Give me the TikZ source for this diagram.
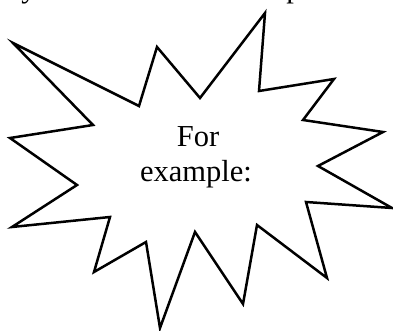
\documentclass[tikz,border=0pt]{standalone}
\usepackage{fontspec}
\setmainfont{Liberation Serif}
\begin{document}
\begin{tikzpicture}[x=1pt,y=-1pt,
  burst/.style={draw=black,line width=2.5pt,line join=miter,fill=white},
  label/.style={font=\fontsize{30.5}{35}\selectfont,align=center,inner sep=0pt}]
\useasboundingbox (0,0) rectangle (393,331);
\begin{scope}
\clip (0,0) rectangle (393,331);
\node[font=\fontsize{30.5}{35}\selectfont,anchor=base,inner sep=0pt] (ty) at (29,-2) {y};
\node[font=\fontsize{30.5}{35}\selectfont,anchor=base,inner sep=0pt] (tp) at (294,-2) {p};
\end{scope}
\draw[burst] (13,43) -- (139,106) -- (157,47) -- (200,98) -- (265,13) -- (259,91)
  -- (334,79) -- (303,120) -- (383,132) -- (318,166) -- (392,208) -- (306,202)
  -- (327,278) -- (257,225) -- (243,304) -- (195,232) -- (160,328) -- (146,242)
  -- (94,272) -- (110,217) -- (12,227) -- (77,185) -- (10,138) -- (93,125) -- cycle;
\node[label,anchor=base] (t1) at (198,147) {For};
\node[label,anchor=base] (t2) at (196,182) {example:};
\end{tikzpicture}
\end{document}
